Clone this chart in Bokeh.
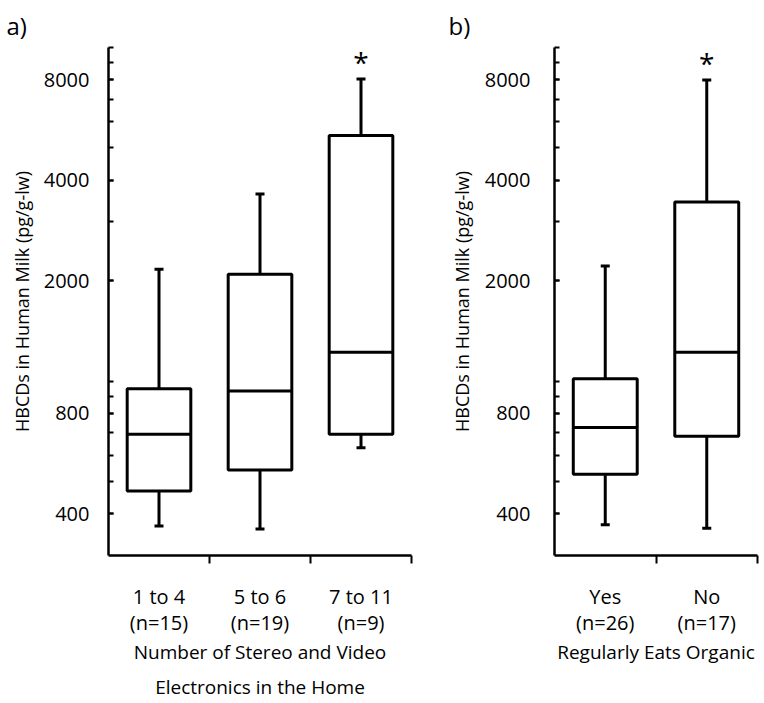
from bokeh.plotting import figure
from bokeh.models import (Range1d, FixedTicker, NumeralTickFormatter, ColumnDataSource,
                          LinearAxis, Title)
from bokeh.layouts import row
from bokeh.embed import file_html
from bokeh.resources import INLINE
from bokeh.core.properties import value

# ---- data (pg/g-lw) ----
cats_a = ["1 to 4", "5 to 6", "7 to 11"]
n_a = [15, 19, 9]
wlo_a = [368, 360, 631]
q1_a = [468, 541, 693]
med_a = [693, 934, 1221]
q3_a = [949, 2091, 5445]
whi_a = [2163, 3640, 8043]
sig_a = ["", "", "*"]

cats_b = ["Yes", "No"]
n_b = [26, 17]
wlo_b = [371, 362]
q1_b = [526, 683]
med_b = [726, 1221]
q3_b = [1016, 3445]
whi_b = [2213, 7988]
sig_b = ["", "*"]

y_major = [400, 800, 2000, 4000, 8000]
y_minor = [400, 500, 600, 700, 800, 900, 1000, 2000, 3000, 4000, 5000,
           6000, 7000, 8000, 9000, 10000]

FONT = "Open Sans"
YTITLE = "HBCDs in Human Milk (pg/g-lw)"


def panel(cats, ns, wlo, q1, med, q3, whi, sig, label, xtitle_lines,
          width, border_left, border_right, label_offset, ylab_standoff,
          ytitle_standoff):
    k = len(cats)
    xs = [i + 0.5 for i in range(k)]
    bw = 0.63
    src = ColumnDataSource(dict(
        x=xs, x0=[x - bw / 2 for x in xs], x1=[x + bw / 2 for x in xs],
        wlo=wlo, q1=q1, med=med, q3=q3, whi=whi, sig=sig))
    p = figure(width=width, height=703, y_axis_type="log",
               x_range=Range1d(0, k), y_range=Range1d(300, 10000),
               output_backend="svg", toolbar_location=None,
               min_border_left=border_left, min_border_right=border_right,
               min_border_top=47, min_border_bottom=148)
    p.outline_line_color = None
    p.grid.visible = False
    p.background_fill_color = "white"

    lw = 3
    p.segment(x0="x", y0="q3", x1="x", y1="whi", source=src,
              line_color="black", line_width=lw)
    p.segment(x0="x", y0="wlo", x1="x", y1="q1", source=src,
              line_color="black", line_width=lw)
    p.scatter(x="x", y="whi", source=src, marker="dash", size=9,
              line_color="black", line_width=lw)
    p.scatter(x="x", y="wlo", source=src, marker="dash", size=9,
              line_color="black", line_width=lw)
    p.quad(left="x0", right="x1", bottom="q1", top="q3", source=src,
           fill_color="white", line_color="black", line_width=lw)
    p.segment(x0="x0", y0="med", x1="x1", y1="med", source=src,
              line_color="black", line_width=lw)
    p.text(x="x", y="whi", text="sig", source=src, text_align="center",
           text_baseline="bottom", y_offset=2, text_font_size="28px",
           text_font=value(FONT), text_color="black")

    # panel label ("a)" / "b)")
    p.title.text = label
    p.title.text_font = FONT
    p.title.text_font_size = "24px"
    p.title.text_font_style = "normal"
    p.title.text_color = "black"
    p.title.align = "left"
    p.title.offset = label_offset
    p.title.standoff = 11

    # y-axis title, placed a little above the frame's middle as in the original
    p.add_layout(Title(text=YTITLE, align="center", offset=22,
                       standoff=ytitle_standoff, text_font=FONT,
                       text_font_size="18px", text_font_style="normal",
                       text_color="black"), "left")

    # y axis
    ya = p.yaxis[0]
    ya.ticker = FixedTicker(ticks=y_major, minor_ticks=y_minor)
    ya.formatter = NumeralTickFormatter(format="0")
    ya.axis_line_width = 2.5
    ya.major_tick_in = 5
    ya.major_tick_out = 0
    ya.minor_tick_in = 5
    ya.minor_tick_out = 0
    ya.major_tick_line_width = 2
    ya.minor_tick_line_width = 2
    ya.major_label_standoff = ylab_standoff
    ya.major_label_text_font = FONT
    ya.major_label_text_font_size = "20px"
    ya.major_label_text_color = "black"

    # x axis
    xa = p.xaxis[0]
    xa.ticker = FixedTicker(ticks=xs, minor_ticks=list(range(1, k + 1)))
    xa.major_label_overrides = {x: f"{c}\n(n={n})" for x, c, n in zip(xs, cats, ns)}
    xa.axis_line_width = 2.5
    xa.major_tick_line_color = None
    xa.major_tick_in = 0
    xa.major_tick_out = 0
    xa.minor_tick_in = 0
    xa.minor_tick_out = 8
    xa.minor_tick_line_width = 2
    xa.major_label_standoff = 19
    xa.major_label_text_font = FONT
    xa.major_label_text_font_size = "20px"
    xa.major_label_text_color = "black"
    xa.major_label_text_line_height = 0.99
    xa.axis_label = xtitle_lines[0]
    xa.axis_label_text_font = FONT
    xa.axis_label_text_font_size = "19px"
    xa.axis_label_text_font_style = "normal"
    xa.axis_label_text_color = "black"
    xa.axis_label_text_line_height = 1.0
    xa.axis_label_standoff = 0

    # second line of the x title: an extra, line-less axis whose one tick
    # label (at the centre of the panel) carries the text
    for extra in xtitle_lines[1:]:
        mid = k / 2
        ax2 = LinearAxis(ticker=FixedTicker(ticks=[mid]),
                         major_label_overrides={mid: extra},
                         axis_line_color=None,
                         major_tick_line_color=None, minor_tick_line_color=None,
                         major_tick_in=0, major_tick_out=0,
                         minor_tick_in=0, minor_tick_out=0,
                         major_label_standoff=5,
                         major_label_text_font=FONT,
                         major_label_text_font_size="19px",
                         major_label_text_line_height=1.0,
                         major_label_text_color="black")
        p.add_layout(ax2, "below")
    return p


pa = panel(cats_a, n_a, wlo_a, q1_a, med_a, q3_a, whi_a, sig_a, "a)",
           ["Number of Stereo and Video", "Electronics in the Home"],
           width=440, border_left=107, border_right=29,
           label_offset=-102, ylab_standoff=19, ytitle_standoff=14)
pb = panel(cats_b, n_b, wlo_b, q1_b, med_b, q3_b, whi_b, sig_b, "b)",
           ["Regularly Eats Organic"],
           width=322, border_left=114, border_right=5,
           label_offset=-106, ylab_standoff=24, ytitle_standoff=15)

layout = row(pa, pb)
open("out.html", "w").write(file_html(layout, INLINE))
